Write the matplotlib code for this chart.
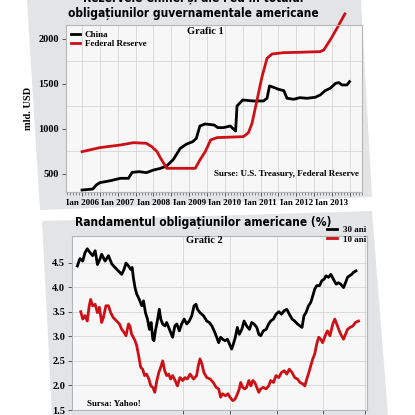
import numpy as np
import matplotlib
matplotlib.use("Agg")
import matplotlib.pyplot as plt
from matplotlib.patches import Polygon
from matplotlib.ticker import MultipleLocator, FuncFormatter, FixedLocator
import matplotlib.dates as mdates
from matplotlib import font_manager

# ==========================================================
# Date - Grafic 1 (mld. USD)
# ==========================================================
ani_china = [2006.0, 2006.3, 2006.4, 2006.5, 2006.8, 2007.07, 2007.3, 2007.4, 2007.6,
             2007.8, 2008.0, 2008.2, 2008.37, 2008.56, 2008.75, 2008.93, 2009.1, 2009.2,
             2009.3, 2009.45, 2009.7, 2009.8, 2009.96, 2010.15, 2010.3, 2010.34, 2010.5,
             2010.8, 2011.08, 2011.18, 2011.25, 2011.36, 2011.5, 2011.65, 2011.74, 2011.93,
             2012.1, 2012.3, 2012.53, 2012.67, 2012.81, 2012.95, 2013.1, 2013.19, 2013.28,
             2013.42, 2013.49]
china = [322, 333, 378, 404, 426, 452, 452, 518, 526, 515, 544, 563, 589, 663, 785, 833,
         859, 896, 1033, 1056, 1044, 1015, 1015, 1033, 978, 1256, 1322, 1311, 1311, 1341,
         1478, 1463, 1441, 1426, 1341, 1330, 1348, 1341, 1352, 1378, 1426, 1452, 1507,
         1515, 1489, 1489, 1526]

ani_fed = [2006.0, 2006.5, 2007.07, 2007.44, 2007.8, 2007.95, 2008.1, 2008.2, 2008.3,
           2008.37, 2008.65, 2009.17, 2009.3, 2009.45, 2009.6, 2009.78, 2010.24, 2010.52,
           2010.66, 2010.76, 2010.9, 2011.04, 2011.18, 2011.32, 2011.65, 2012.1, 2012.4,
           2012.67, 2012.77, 2012.95, 2013.14, 2013.36]
fed = [748, 793, 822, 848, 841, 804, 748, 674, 611, 563, 563, 563, 656, 748, 878, 904,
       911, 915, 959, 1063, 1322, 1581, 1785, 1833, 1848, 1852, 1856, 1859, 1878, 1989,
       2119, 2278]

# ==========================================================
# Date - Grafic 2 (randament %), zile de la 22.02.2011
# ==========================================================
zile_30 = [0, 9, 19, 27, 35, 45, 54, 63, 71, 80, 86, 98, 110, 122, 133, 145, 157, 165,
           172, 181, 189, 194, 198, 204, 210, 219, 228, 234, 241, 248, 255, 261, 267, 271,
           276, 283, 290, 295, 302, 310, 316, 328, 337, 345, 352, 361, 369, 378, 387, 396,
           405, 413, 420, 425, 434, 446, 458, 467, 476, 484, 493, 500, 507, 514, 523, 531,
           540, 546, 552, 559, 566, 573, 582, 590, 599, 609, 617, 625, 635, 642, 649, 658,
           668, 677, 684, 694, 703, 713, 722, 732, 741, 750, 760, 769, 779, 788, 795, 802,
           809, 818, 826, 833, 840, 847, 857, 865, 873, 880, 889, 897, 906, 916, 924, 932,
           942, 949, 956, 963, 971, 977, 986]
ani_30 = [4.43, 4.58, 4.53, 4.70, 4.78, 4.70, 4.64, 4.74, 4.46, 4.57, 4.67, 4.53, 4.64,
          4.47, 4.40, 4.33, 4.26, 4.36, 4.49, 4.43, 4.36, 4.40, 4.20, 3.99, 3.86, 3.75,
          3.62, 3.72, 3.48, 3.35, 3.14, 3.28, 2.94, 2.91, 3.11, 3.31, 3.55, 3.35, 3.25,
          3.21, 3.28, 3.11, 2.98, 3.21, 3.25, 3.11, 3.25, 3.35, 3.25, 3.31, 3.42, 3.62,
          3.65, 3.55, 3.48, 3.42, 3.31, 3.28, 3.21, 3.11, 2.98, 2.87, 2.98, 2.94, 2.91,
          2.94, 2.82, 2.74, 2.84, 2.98, 3.18, 3.04, 3.14, 3.31, 3.21, 3.14, 3.28, 3.25,
          3.18, 3.04, 3.01, 3.11, 3.14, 3.25, 3.31, 3.35, 3.45, 3.50, 3.45, 3.52, 3.55,
          3.45, 3.35, 3.31, 3.25, 3.21, 3.18, 3.42, 3.48, 3.62, 3.69, 3.82, 3.96, 4.03,
          4.03, 4.13, 4.16, 4.23, 4.20, 4.26, 4.16, 4.06, 4.09, 4.06, 3.99, 4.09, 4.20,
          4.23, 4.26, 4.30, 4.33]

zile_10 = [12, 19, 27, 35, 42, 47, 54, 63, 71, 78, 86, 92, 101, 110, 118, 127, 139, 149,
           157, 165, 172, 181, 186, 192, 198, 204, 210, 217, 224, 231, 238, 245, 253, 260,
           267, 274, 281, 288, 295, 302, 309, 316, 323, 330, 337, 346, 354, 363, 373, 381,
           389, 399, 411, 422, 428, 434, 441, 448, 458, 470, 481, 491, 500, 507, 514, 524,
           533, 540, 550, 558, 566, 573, 578, 585, 592, 599, 607, 614, 621, 628, 635, 642,
           649, 658, 668, 677, 684, 694, 703, 713, 722, 732, 741, 750, 760, 769, 779, 788,
           798, 805, 812, 819, 826, 833, 840, 847, 854, 861, 868, 877, 885, 894, 904, 911,
           918, 925, 932, 942, 949, 956, 965, 975, 984, 995]
ani_10 = [3.50, 3.35, 3.42, 3.31, 3.62, 3.75, 3.62, 3.65, 3.48, 3.59, 3.28, 3.38, 3.62,
          3.62, 3.48, 3.38, 3.31, 3.25, 3.14, 3.08, 3.01, 3.25, 3.21, 3.04, 2.98, 2.91,
          2.81, 2.60, 2.37, 2.33, 2.20, 2.23, 2.13, 1.99, 1.96, 1.86, 2.09, 2.26, 2.37,
          2.50, 2.30, 2.20, 2.23, 2.13, 2.20, 2.10, 1.99, 2.16, 2.10, 2.16, 2.13, 2.23,
          2.13, 2.20, 2.40, 2.54, 2.43, 2.26, 2.16, 2.13, 2.06, 1.96, 1.93, 1.76, 1.83,
          1.79, 1.83, 1.76, 1.69, 1.72, 1.82, 1.93, 2.06, 1.96, 1.93, 1.96, 2.10, 1.99,
          2.10, 2.06, 1.96, 1.86, 1.93, 1.96, 1.93, 1.99, 2.10, 2.06, 2.20, 2.16, 2.26,
          2.30, 2.23, 2.33, 2.26, 2.16, 2.13, 2.06, 2.03, 1.99, 2.13, 2.26, 2.40, 2.54,
          2.64, 2.84, 2.98, 2.94, 2.87, 3.01, 3.11, 3.01, 3.25, 3.35, 3.25, 3.14, 3.04,
          2.94, 3.04, 3.14, 3.18, 3.21, 3.28, 3.31]

date_ticks = ["2012-03-01", "2012-08-16", "2013-01-29", "2013-07-11", "2013-12-06"]

# ==========================================================
# Stil
# ==========================================================
ROSU = "#cc1016"
SERIF = ["Liberation Serif", "DejaVu Serif"]
W = H = 415.0

# font ingust pentru titluri (DejaVu Sans Condensed daca exista)
fonturi = {f.name for f in font_manager.fontManager.ttflist}
if "DejaVu Sans Condensed" in fonturi:
    TITLU = dict(family="DejaVu Sans Condensed", weight="bold", size=9)
else:
    TITLU = dict(family="DejaVu Sans", weight="bold", stretch="condensed", size=8.6)


def cadru(x0, y0, x1, y1):
    # pixeli (sus-stanga) -> fractii de figura
    return [x0 / W, 1 - y1 / H, (x1 - x0) / W, (y1 - y0) / H]


def px(x, y):
    return x / W, 1 - y / H


fig = plt.figure(figsize=(4.15, 4.15), dpi=100)
fig.patch.set_facecolor("white")

# foile de hartie (fundal gri)
for colturi in ([(27, 0), (361, 0), (372, 197), (40, 210)],
                [(42, 221), (372, 211), (388, 415), (52, 415)]):
    fig.patches.append(Polygon([px(a, b) for a, b in colturi], closed=True,
                               transform=fig.transFigure, facecolor="#e3e4e6",
                               edgecolor="none", zorder=-10))


def stil_axa(ax):
    ax.set_facecolor("#f7f7f7")
    for s in ax.spines.values():
        s.set_color("#b5b5b5")
        s.set_linewidth(0.8)
    ax.tick_params(labelsize=6.5, length=3, width=0.7, color="#555555", pad=2)
    for lab in ax.get_xticklabels() + ax.get_yticklabels():
        lab.set_fontfamily(SERIF)
        lab.set_fontweight("bold")


# ==========================================================
# Grafic 1
# ==========================================================
ax1 = fig.add_axes(cadru(66, 25, 362, 192))
ax1.plot(ani_china, china, color="black", lw=2.0, label="China")
ax1.plot(ani_fed, fed, color=ROSU, lw=2.0, label="Federal Reserve", clip_on=False)
ax1.set_xlim(2005.55, 2013.84)
ax1.set_ylim(300, 2155)
ax1.xaxis.set_major_locator(MultipleLocator(0.5))
ax1.xaxis.set_minor_locator(MultipleLocator(1 / 12))
ax1.xaxis.set_major_formatter(FuncFormatter(
    lambda v, p: f"Ian {int(round(v))}" if abs(v - round(v)) < 1e-6 else ""))
ax1.yaxis.set_major_locator(FixedLocator([500, 1000, 1500, 2000]))
ax1.yaxis.set_minor_locator(MultipleLocator(250))
ax1.grid(True, which="major", axis="x", color="#d6d6d6", lw=0.6)
ax1.grid(True, which="minor", axis="y", color="#d6d6d6", lw=0.6)
ax1.tick_params(axis="x", which="minor", length=2, color="#777777")
ax1.tick_params(axis="y", which="minor", length=0)
stil_axa(ax1)
ax1.tick_params(axis="y", labelsize=7.5)
ax1.set_ylabel("mld. USD", fontfamily=SERIF, fontweight="bold", fontsize=7.5, labelpad=4)
ax1.legend(loc="upper left", frameon=False, prop={"family": SERIF, "weight": "bold", "size": 6.5},
           handlelength=1.0, handletextpad=0.5, borderaxespad=0.2, labelspacing=0.1)
ax1.text(0.99, 0.11, "Surse: U.S. Treasury, Federal Reserve", transform=ax1.transAxes,
         ha="right", va="center", fontfamily=SERIF, fontweight="bold", fontsize=6.5)
ax1.text(0.47, 0.96, "Grafic 1", transform=ax1.transAxes, ha="center", va="center",
         fontfamily=SERIF, fontweight="bold", fontsize=7.5)

fig.text(*px(193, -2), "Rezervele Chinei și ale Fed în totalul", ha="center", va="center", **TITLU)
fig.text(*px(193, 13), "obligațiunilor guvernamentale americane", ha="center", va="center", **TITLU)

# ==========================================================
# Grafic 2
# ==========================================================
start = np.datetime64("2011-02-22")
x30 = start + np.array(zile_30).astype("timedelta64[D]")
x10 = start + np.array(zile_10).astype("timedelta64[D]")

ax2 = fig.add_axes(cadru(72, 236, 367, 410))
ax2.plot(x30, ani_30, color="black", lw=2.0, label="30 ani")
ax2.plot(x10, ani_10, color=ROSU, lw=2.0, label="10 ani")
ax2.set_xlim(start - np.timedelta64(19, "D"), start + np.timedelta64(1025, "D"))
ax2.set_ylim(1.5, 5.04)
ax2.xaxis.set_major_locator(FixedLocator(mdates.date2num(np.array(date_ticks, dtype="datetime64[D]"))))
ax2.xaxis.set_major_formatter(mdates.DateFormatter("%d.%m.%Y"))
ax2.yaxis.set_major_locator(FixedLocator([1.5, 2.0, 2.5, 3.0, 3.5, 4.0, 4.5]))
ax2.yaxis.set_major_formatter(FuncFormatter(lambda v, p: f"{v:.1f}"))
ax2.grid(True, color="#d6d6d6", lw=0.6)
stil_axa(ax2)
ax2.tick_params(axis="y", labelsize=7.5)
ax2.legend(loc="upper right", bbox_to_anchor=px(366, 226), bbox_transform=fig.transFigure,
           frameon=False, prop={"family": SERIF, "weight": "bold", "size": 6.5},
           handlelength=1.2, handletextpad=0.6, borderaxespad=0, borderpad=0, labelspacing=0.1)
ax2.text(0.05, 0.01, "Sursa: Yahoo!", transform=ax2.transAxes, ha="left", va="bottom",
         fontfamily=SERIF, fontweight="bold", fontsize=6.5)
ax2.text(0.45, 0.975, "Grafic 2", transform=ax2.transAxes, ha="center", va="center",
         fontfamily=SERIF, fontweight="bold", fontsize=7.5)

fig.text(*px(203, 222), "Randamentul obligațiunilor americane (%)", ha="center", va="center", **TITLU)

fig.savefig("out.png", dpi=100)
